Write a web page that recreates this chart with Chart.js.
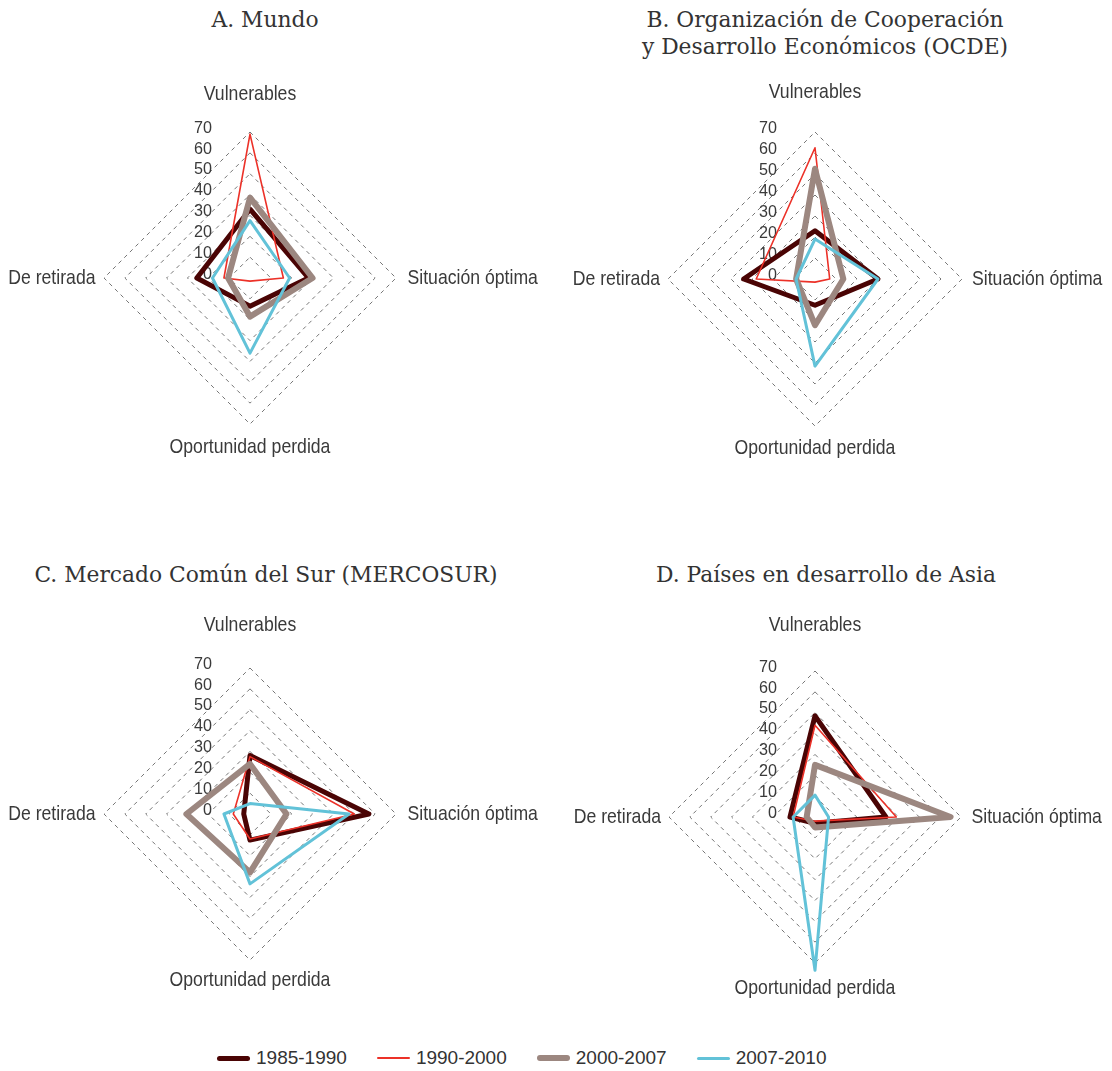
<!DOCTYPE html>
<html lang="es">
<head>
<meta charset="utf-8">
<title>Radar por región</title>
<script src="https://cdn.jsdelivr.net/npm/chart.js@4.4.1/dist/chart.umd.min.js"></script>
<style>
  html, body { margin: 0; padding: 0; background: #ffffff; }
  body { width: 1112px; height: 1071px; position: relative; overflow: hidden; }
  canvas { position: absolute; }
  .title {
    position: absolute; transform: translateX(-50%);
    font-family: "DejaVu Serif", "Liberation Serif", serif; font-size: 21.8px;
    line-height: 27px; color: #333333; text-align: center; white-space: nowrap;
  }
  .legend {
    position: absolute; left: 217px; top: 1045px; height: 26px;
    display: flex; align-items: center;
    font-family: "Liberation Sans", Arial, sans-serif;
    font-size: 19px; color: #333333;
  }
  .legend .item { display: flex; align-items: center; margin-right: 30px; }
  .legend .swatch { width: 33px; border-radius: 3px; margin-right: 6px; }
</style>
</head>
<body>
<div class="title" style="left:265px; top:6px;">A. Mundo</div>
<div class="title" style="left:825px; top:6px;">B. Organización de Cooperación<br>y Desarrollo Económicos (OCDE)</div>
<div class="title" style="left:266px; top:561px;">C. Mercado Común del Sur (MERCOSUR)</div>
<div class="title" style="left:826px; top:561px;">D. Países en desarrollo de Asia</div>

<canvas id="panelA"></canvas>
<canvas id="panelB"></canvas>
<canvas id="panelC"></canvas>
<canvas id="panelD"></canvas>
<div class="legend" id="legend"></div>

<script>
// Axes of every radar, clockwise from the top
const categories = ['Vulnerables', 'Situación óptima', 'Oportunidad perdida', 'De retirada'];
const periods = ['1985-1990', '1990-2000', '2000-2007', '2007-2010'];
const tickValues = [0, 10, 20, 30, 40, 50, 60, 70];

// A. Mundo
const mundo1985 = [33, 28, 13.5, 25.5];
const mundo1990 = [69, 16, 1.5, 12.5];
const mundo2000 = [38.5, 30, 18.5, 10.5];
const mundo2007 = [27.5, 19, 36, 18];

// B. OCDE
const ocde1985 = [23, 30, 12.5, 34];
const ocde1990 = [62.5, 7, 1.5, 28];
const ocde2000 = [52.5, 13.5, 22, 9];
const ocde2007 = [19, 30, 41.5, 9];

// C. MERCOSUR
const mercosur1985 = [28, 57, 12.5, 3];
const mercosur1990 = [27.5, 50, 12, 8];
const mercosur2000 = [24, 17.5, 28, 30.5];
const mercosur2007 = [5, 47.5, 33.5, 12.5];

// D. Países en desarrollo de Asia
const asia1985 = [48.5, 34, 3, 12];
const asia1990 = [44, 39, 2, 10.5];
const asia2000 = [25, 65, 5, 4];
const asia2007 = [10.5, 6.5, 73.5, 10.5];

// Line style of each period
const lineColors = ['#4a0404', '#ec3128', '#9c8780', '#62c2d8'];
const lineWidths = [5, 1.6, 6, 3];

const AXIS_FONT = '"Liberation Sans", Arial, sans-serif';
const NARROW = 0.84; // horizontal squeeze for the condensed look of the axis names

function narrowText(ctx, text, x, y, align, sx) {
  ctx.save();
  ctx.translate(x, y);
  ctx.scale(sx, 1);
  ctx.textAlign = align;
  ctx.fillText(text, 0, 0);
  ctx.restore();
}

// Writes the value scale beside the vertical axis and the axis names around the grid
const axisText = {
  id: 'axisText',
  beforeDatasetsDraw(chart, args, opts) {
    const s = chart.scales.r;
    const ctx = chart.ctx;
    ctx.save();
    ctx.fillStyle = '#3a3a3a';
    ctx.textBaseline = 'middle';
    ctx.font = '17px ' + AXIS_FONT;
    s.ticks.forEach(t => {
      const d = s.getDistanceFromCenterForValue(t.value);
      narrowText(ctx, t.label, s.xCenter - 38, s.yCenter - d - 4, 'right', 0.95);
    });
    ctx.font = '21px ' + AXIS_FONT;
    chart.data.labels.forEach((lab, i) => {
      const p = s.getPointPosition(i, s.drawingArea + opts.gaps[i]);
      const dx = p.x - s.xCenter;
      const align = Math.abs(dx) < 1 ? 'center' : (dx > 0 ? 'left' : 'right');
      narrowText(ctx, lab, p.x, p.y, align, NARROW);
    });
    ctx.restore();
  }
};

function makePanel(id, box, center, radius, gaps, series) {
  const el = document.getElementById(id);
  el.width = box.width;
  el.height = box.height;
  el.style.left = box.left + 'px';
  el.style.top = box.top + 'px';
  el.style.width = box.width + 'px';
  el.style.height = box.height + 'px';
  const side = 2 * radius + 1;
  const padLeft = center.x - radius - box.left;
  const padTop = center.y - radius - box.top;
  return new Chart(el, {
    type: 'radar',
    data: {
      labels: categories,
      datasets: series.map((vals, k) => ({
        label: periods[k],
        data: vals,
        borderColor: lineColors[k],
        borderWidth: lineWidths[k],
        borderJoinStyle: 'round',
        fill: false,
        pointRadius: 0,
        pointHoverRadius: 0,
        tension: 0,
        order: series.length - k
      }))
    },
    options: {
      responsive: false,
      animation: false,
      devicePixelRatio: 1,
      layout: {
        padding: {
          left: padLeft,
          top: padTop,
          right: box.width - padLeft - side,
          bottom: box.height - padTop - side
        }
      },
      plugins: {
        legend: { display: false },
        tooltip: { enabled: false },
        axisText: { gaps: gaps }
      },
      scales: {
        r: {
          min: tickValues[0],
          max: tickValues[tickValues.length - 1],
          ticks: { display: false, stepSize: tickValues[1] - tickValues[0] },
          pointLabels: { display: false },
          angleLines: { display: false },
          grid: { circular: false, color: '#767676', lineWidth: 1 },
          border: { dash: [4, 4] }
        }
      }
    },
    plugins: [axisText]
  });
}

makePanel('panelA', { left: 0, top: 50, width: 556, height: 470 }, { x: 250, y: 278 }, 146,
  [38, 11.5, 23, 8.5], [mundo1985, mundo1990, mundo2000, mundo2007]);
makePanel('panelB', { left: 556, top: 50, width: 556, height: 470 }, { x: 815, y: 279 }, 147,
  [40, 10, 22, 8], [ocde1985, ocde1990, ocde2000, ocde2007]);
makePanel('panelC', { left: 0, top: 590, width: 556, height: 450 }, { x: 250, y: 814 }, 146,
  [43, 11.5, 20, 8.5], [mercosur1985, mercosur1990, mercosur2000, mercosur2007]);
makePanel('panelD', { left: 556, top: 590, width: 556, height: 450 }, { x: 815, y: 817 }, 146,
  [46, 10.5, 25, 8], [asia1985, asia1990, asia2000, asia2007]);

// shared legend
const legend = document.getElementById('legend');
periods.forEach((p, k) => {
  const item = document.createElement('div');
  item.className = 'item';
  const sw = document.createElement('div');
  sw.className = 'swatch';
  sw.style.height = Math.max(2, lineWidths[k]) + 'px';
  sw.style.background = lineColors[k];
  const tx = document.createElement('span');
  tx.textContent = p;
  item.appendChild(sw);
  item.appendChild(tx);
  legend.appendChild(item);
});
</script>
</body>
</html>
